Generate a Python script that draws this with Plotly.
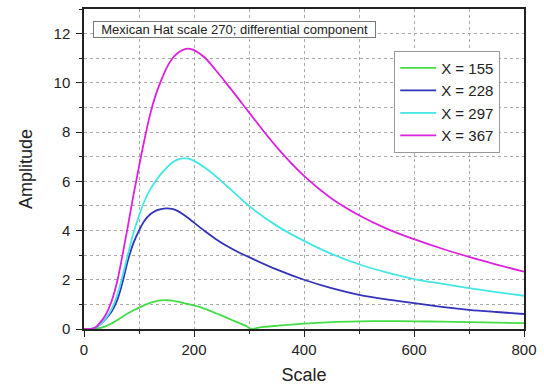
import plotly.graph_objects as go

scale = [0, 10, 20, 30, 40, 50, 60, 70, 80, 90, 100, 110, 120, 130, 140, 150, 160, 170, 180, 190,
         200, 220, 240, 260, 280, 300, 350, 400, 450, 500, 550, 600, 650, 700, 750, 800]

amp_367 = [0, 0, 0.05, 0.28, 0.6, 1.12, 1.9, 3.0, 4.2, 5.45, 6.6, 7.7, 8.7, 9.48, 10.08, 10.6, 10.97,
           11.2, 11.34, 11.39, 11.33, 11.02, 10.5, 9.95, 9.38, 8.8, 7.4, 6.22, 5.3, 4.62, 4.08, 3.65,
           3.27, 2.93, 2.62, 2.33]
amp_297 = [0, 0, 0.04, 0.2, 0.45, 0.8, 1.35, 2.15, 3.05, 3.9, 4.6, 5.2, 5.65, 6.0, 6.3, 6.55, 6.75,
           6.88, 6.93, 6.92, 6.83, 6.55, 6.2, 5.8, 5.4, 5.0, 4.2, 3.58, 3.05, 2.63, 2.3, 2.03,
           1.84, 1.66, 1.5, 1.35]
amp_228 = [0, 0, 0.04, 0.2, 0.42, 0.7, 1.15, 1.9, 2.8, 3.5, 4.0, 4.4, 4.65, 4.8, 4.87, 4.9, 4.88,
           4.8, 4.66, 4.5, 4.32, 3.97, 3.65, 3.37, 3.13, 2.92, 2.42, 2.0, 1.66, 1.39, 1.2, 1.05,
           0.9, 0.78, 0.69, 0.61]

scale_155 = [0, 10, 20, 30, 40, 50, 60, 70, 80, 90, 100, 110, 120, 130, 140, 150, 160, 170, 180, 190,
             200, 220, 240, 260, 280, 295, 305, 315, 330, 350, 400, 450, 500, 550, 600, 650, 700, 750, 800]
amp_155 = [0, 0, 0.01, 0.05, 0.12, 0.22, 0.36, 0.5, 0.64, 0.76, 0.87, 0.97, 1.06, 1.12, 1.16, 1.17,
           1.15, 1.11, 1.06, 1.01, 0.96, 0.82, 0.64, 0.45, 0.26, 0.12, 0.0, 0.05, 0.09, 0.13, 0.22, 0.28,
           0.31, 0.32, 0.31, 0.3, 0.28, 0.26, 0.24]

series = [
    ("X = 155", scale_155, amp_155, "#44dd44"),
    ("X = 228", scale, amp_228, "#3333bb"),
    ("X = 297", scale, amp_297, "#44e6e6"),
    ("X = 367", scale, amp_367, "#dd22dd"),
]

x_ticks = [0, 200, 400, 600, 800]
y_ticks = [0, 2, 4, 6, 8, 10, 12]
title_text = "Mexican Hat scale 270; differential component"

FONT = "Liberation Sans, Arial"

fig = go.Figure()
for name, xs, ys, col in series:
    fig.add_trace(go.Scatter(x=xs, y=ys, mode="lines", name=name,
                             line=dict(color=col, width=1.8, shape="spline", smoothing=1.0)))

axis_common = dict(
    showline=True, linecolor="#222", linewidth=1.5, mirror=True,
    ticks="outside", ticklen=6, tickwidth=1.3, tickcolor="#222",
    showgrid=True, gridcolor="#aaaaaa", gridwidth=1, griddash="dot",
    zeroline=False,
    tickfont=dict(family=FONT, size=15, color="#222"),
)

fig.update_xaxes(range=[0, 800], tickvals=x_ticks,
                 minor=dict(dtick=100, ticks="outside", ticklen=3, tickcolor="#222",
                            showgrid=True, gridcolor="#aaaaaa", griddash="dot"),
                 title=dict(text="Scale", font=dict(family=FONT, size=18, color="#222"),
                            standoff=12),
                 **axis_common)
fig.update_yaxes(range=[0, 13], tickvals=y_ticks, ticklabelstandoff=3,
                 minor=dict(dtick=1, ticks="outside", ticklen=3, tickcolor="#222",
                            showgrid=True, gridcolor="#aaaaaa", griddash="dot"),
                 title=dict(text="Amplitude", font=dict(family=FONT, size=18, color="#222"),
                            standoff=16),
                 **axis_common)

pad = "&nbsp;" * 2
fig.add_annotation(xref="paper", yref="paper", x=0.02, y=0.935, xanchor="left", yanchor="middle",
                   text=pad + title_text + pad, showarrow=False,
                   font=dict(family=FONT, size=13, color="#222"),
                   bordercolor="#777", borderwidth=1, borderpad=0, bgcolor="white")

fig.update_layout(
    width=544, height=390,
    margin=dict(l=84, r=20, t=7, b=61),
    paper_bgcolor="white", plot_bgcolor="white",
    legend=dict(x=0.705, y=0.87, xanchor="left", yanchor="top",
                bgcolor="white", bordercolor="#999", borderwidth=1,
                font=dict(family=FONT, size=15, color="#222"),
                tracegroupgap=0, itemwidth=36),
    showlegend=True,
)

fig.write_html("out.html", config={"displayModeBar": False},
               post_script="document.body.style.margin='0';document.body.style.padding='0';")
